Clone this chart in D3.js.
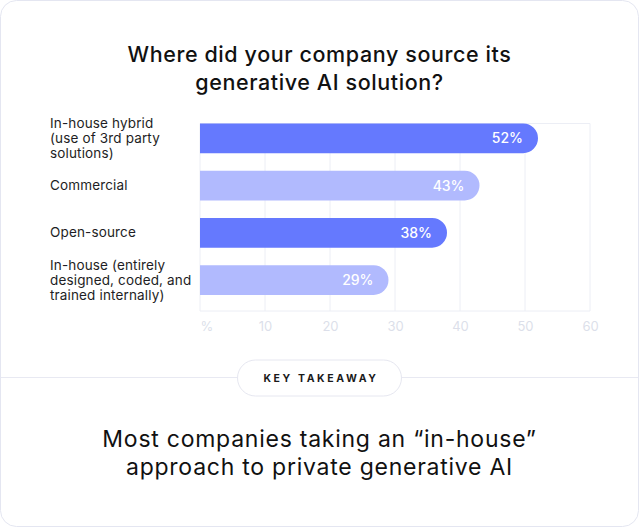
<!DOCTYPE html>
<html>
<head>
<meta charset="utf-8">
<script src="https://cdn.jsdelivr.net/npm/d3@7"></script>
<style>
  html, body { margin: 0; padding: 0; background: #fff; }
  svg { display: block; }
</style>
</head>
<body>
<div id="chart"></div>
<script>
var WIDTH = 639, HEIGHT = 527;

// data
var categories = [
  ["In-house hybrid", "(use of 3rd party", "solutions)"],
  ["Commercial"],
  ["Open-source"],
  ["In-house (entirely", "designed, coded, and", "trained internally)"]
];
var values = [52, 43, 38, 29];
var barColors = ["#6579fe", "#b1bafe", "#6579fe", "#b1bafe"];
var tickValues = [0, 10, 20, 30, 40, 50, 60];
var tickLabels = ["%", "10", "20", "30", "40", "50", "60"];
var titleLines = ["Where did your company source its", "generative AI solution?"];
var takeawayLines = ["Most companies taking an \u201cin-house\u201d", "approach to private generative AI"];

var margin = {top: 123.5, left: 200, right: 49, bottom: 216};

var svg = d3.select("#chart").append("svg")
  .attr("width", WIDTH)
  .attr("height", HEIGHT);

// card
svg.append("rect")
  .attr("x", 0.5).attr("y", 0.5)
  .attr("width", WIDTH - 1).attr("height", HEIGHT - 1)
  .attr("rx", 16)
  .attr("fill", "#fff")
  .attr("stroke", "#e4e6f1");

// title
svg.append("text")
  .attr("x", WIDTH / 2)
  .attr("y", 62)
  .attr("text-anchor", "middle")
  .style("font-family", "Inter")
  .style("font-size", "21.5px")
  .style("font-weight", 500)
  .style("letter-spacing", "0.6px")
  .style("fill", "#111")
  .selectAll("tspan")
  .data(titleLines)
  .join("tspan")
    .attr("x", WIDTH / 2)
    .attr("dy", (d, i) => i ? 28 : 0)
    .text(d => d);

var xScale = d3.scaleLinear().domain([0, 60]).range([margin.left, WIDTH - margin.right]);
var yScale = d3.scaleBand().domain(d3.range(categories.length)).range([margin.top, 312.5]).padding(0);
var plotBottom = 311;
var barH = yScale.bandwidth() * 0.627;

var g = svg.append("g");

// grid
g.selectAll(".grid")
  .data(tickValues)
  .join("line")
    .attr("x1", d => xScale(d)).attr("x2", d => xScale(d))
    .attr("y1", margin.top).attr("y2", plotBottom)
    .attr("stroke", "#eceef5");

g.selectAll(".hgrid")
  .data([margin.top, plotBottom])
  .join("line")
    .attr("x1", xScale(0)).attr("x2", xScale(60))
    .attr("y1", d => d).attr("y2", d => d)
    .attr("stroke", "#eceef5");

// x axis labels
var xAxis = g.append("g")
  .attr("transform", "translate(0," + (plotBottom + 8) + ")")
  .call(d3.axisBottom(xScale).tickValues(tickValues).tickSize(0).tickFormat((d, i) => tickLabels[i]))
  .call(g => g.select(".domain").remove());

xAxis.selectAll("text")
  .style("font-family", "Inter")
  .style("font-size", "13px")
  .style("fill", "#dcdfea")
  .attr("text-anchor", (d, i) => i === 0 ? "start" : "middle");

// bars: square left, rounded right
var barPath = function(d, i) {
  var x0 = xScale(0), x1 = xScale(d), y0 = yScale(i), r = barH / 2;
  return "M" + x0 + "," + y0 +
    "H" + (x1 - r) +
    "A" + r + "," + r + " 0 0 1 " + (x1 - r) + "," + (y0 + barH) +
    "H" + x0 + "Z";
};

g.selectAll(".bar")
  .data(values)
  .join("path")
    .attr("class", "bar")
    .attr("d", barPath)
    .attr("fill", (d, i) => barColors[i]);

g.selectAll(".value")
  .data(values)
  .join("text")
    .attr("x", d => xScale(d) - 15)
    .attr("y", (d, i) => yScale(i) + barH / 2 + 5)
    .attr("text-anchor", "end")
    .style("font-family", "Inter")
    .style("font-size", "14px")
    .style("font-weight", 500)
    .style("fill", "#fff")
    .text(d => d + "%");

// category labels, block centred on the bar
g.selectAll(".cat")
  .data(categories)
  .join("text")
    .attr("class", "cat")
    .attr("y", (d, i) => yScale(i) + barH / 2 + 4.5 - (d.length - 1) * 7.5)
    .style("font-family", "Inter")
    .style("font-size", "13.5px")
    .style("letter-spacing", "0.15px")
    .style("fill", "#1e1e24")
    .selectAll("tspan")
    .data(d => d)
    .join("tspan")
      .attr("x", 50)
      .attr("dy", (d, i) => i ? 15 : 0)
      .text(d => d);

// takeaway divider + pill
svg.append("line")
  .attr("x1", 1).attr("x2", WIDTH - 1)
  .attr("y1", 377.5).attr("y2", 377.5)
  .attr("stroke", "#e8e9f2");

svg.append("rect")
  .attr("x", 237.5).attr("y", 360)
  .attr("width", 164).attr("height", 36)
  .attr("rx", 18)
  .attr("fill", "#fff")
  .attr("stroke", "#e6e7f0");

svg.append("text")
  .attr("x", WIDTH / 2 + 1.5)
  .attr("y", 382)
  .attr("text-anchor", "middle")
  .style("font-family", "Inter")
  .style("font-size", "10.5px")
  .style("font-weight", 700)
  .style("letter-spacing", "2.6px")
  .style("fill", "#1a1a1a")
  .text("KEY TAKEAWAY");

svg.append("text")
  .attr("x", WIDTH / 2)
  .attr("y", 447)
  .attr("text-anchor", "middle")
  .style("font-family", "Inter")
  .style("font-size", "23px")
  .style("font-weight", 400)
  .style("letter-spacing", "0.75px")
  .style("fill", "#111")
  .selectAll("tspan")
  .data(takeawayLines)
  .join("tspan")
    .attr("x", WIDTH / 2)
    .attr("dy", (d, i) => i ? 28 : 0)
    .text(d => d);
</script>
</body>
</html>
